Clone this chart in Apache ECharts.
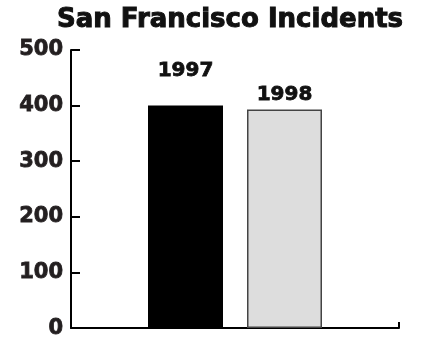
<!DOCTYPE html>
<html><head><meta charset="utf-8">
<script src="https://cdn.jsdelivr.net/npm/echarts@6/dist/echarts.min.js"></script>
<style>html,body{margin:0;padding:0;background:#fff}#c{width:423px;height:339px}</style>
</head><body><div id="c"></div>
<script>
const title = 'San Francisco Incidents';
const categories = ['Incidents'];
const seriesNames = ['1997', '1998'];
const values1997 = [400];
const values1998 = [393];
const yTicks = [0, 100, 200, 300, 400, 500];

const FONT = 'DejaVu Sans';
const chart = echarts.init(document.getElementById('c'), null, {renderer: 'canvas'});
chart.setOption({
  animation: false,
  backgroundColor: '#ffffff',
  title: {
    text: title, left: 225, textAlign: 'center', top: 2,
    textStyle: {fontFamily: FONT, fontWeight: 'bold', fontSize: 26, color: '#111',
      textBorderColor: '#111', textBorderWidth: 1}
  },
  grid: {left: 71, right: 24, top: 50, bottom: 7, containLabel: false},
  xAxis: {
    type: 'category', data: categories,
    axisLine: {lineStyle: {color: '#000', width: 2}},
    axisTick: {show: true, inside: true, length: 6, lineStyle: {color: '#000', width: 2}},
    axisLabel: {show: false}
  },
  yAxis: {
    type: 'value', min: yTicks[0], max: yTicks[yTicks.length - 1], interval: 100,
    axisLine: {show: true, lineStyle: {color: '#000', width: 2}},
    axisTick: {show: true, inside: true, length: 9, lineStyle: {color: '#000', width: 2}},
    splitLine: {show: false},
    axisLabel: {margin: 8, fontFamily: FONT, fontWeight: 'bold', fontSize: 21, color: '#231f20',
      textBorderColor: '#231f20', textBorderWidth: 0.8}
  },
  series: [
    {
      name: seriesNames[0], type: 'bar', data: values1997, barWidth: 75, barGap: '32%',
      itemStyle: {color: '#000000'},
      label: {show: true, position: 'top', distance: 25, formatter: '{a}',
        fontFamily: FONT, fontWeight: 'bold', fontSize: 20, color: '#111',
        textBorderColor: '#111', textBorderWidth: 0.8}
    },
    {
      name: seriesNames[1], type: 'bar', data: values1998, barWidth: 75,
      itemStyle: {color: '#dddddd', borderColor: '#444', borderWidth: 1.5},
      label: {show: true, position: 'top', distance: 5, formatter: '{a}',
        fontFamily: FONT, fontWeight: 'bold', fontSize: 20, color: '#111',
        textBorderColor: '#111', textBorderWidth: 0.8}
    }
  ]
});
</script></body></html>
